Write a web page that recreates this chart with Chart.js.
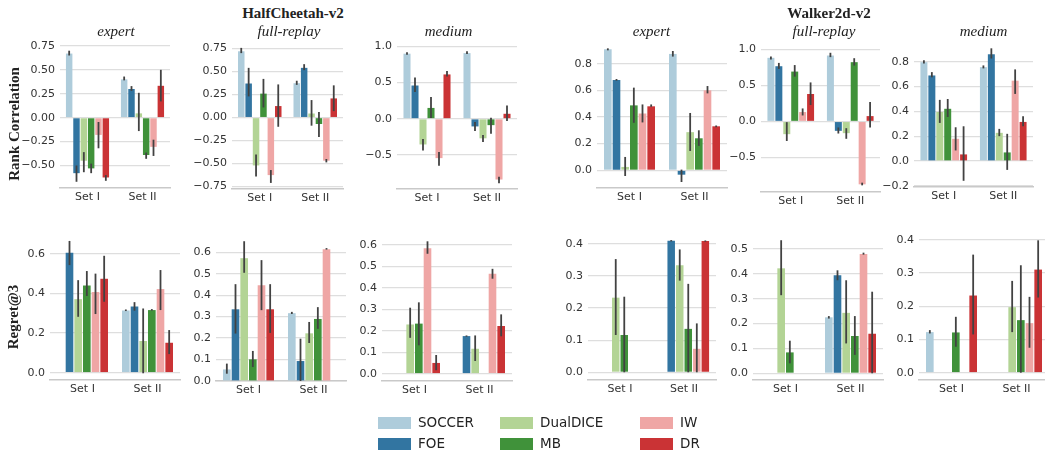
<!DOCTYPE html>
<html>
<head>
<meta charset="utf-8">
<script src="https://cdn.jsdelivr.net/npm/chart.js@4.4.1/dist/chart.umd.min.js"></script>
<style>
body { margin: 0; width: 1045px; height: 450px; overflow: hidden; background: #fff; position: relative; font-family: "DejaVu Sans"; }
canvas { position: absolute; }
.ttl { position: absolute; transform: translate(-50%, -50%); white-space: nowrap; font-family: "Liberation Serif"; color: #222; line-height: 1; }
.sub { font-style: italic; font-size: 15px; }
.sup { font-weight: bold; font-size: 15px; }
.rot { font-weight: bold; font-size: 15px; transform: translate(-50%, -50%) rotate(-90deg); }
.lg { position: absolute; font-size: 13.5px; color: #222; line-height: 1; white-space: nowrap; }
.sw { position: absolute; width: 33px; height: 12px; }
</style>
</head>
<body>
<script>
// methods / groups
var methods = ['SOCCER', 'FOE', 'DualDICE', 'MB', 'IW', 'DR'];
var sets = ['Set I', 'Set II'];
var colors = ['#aeccdb', '#3275a1', '#b3d495', '#40923a', '#efa6a5', '#ca3335'];

// each row = one method, [Set I, Set II]
// --- rank correlation, HalfCheetah-v2
var hcExpertRank   = [[0.67, 0.40], [-0.58, 0.30], [-0.45, 0.045], [-0.53, -0.39], [-0.18, -0.305], [-0.625, 0.333]];
var hcExpertRankLo = [[0.65, 0.39], [-0.67, 0.28], [-0.57, -0.14], [-0.58, -0.43], [-0.32, -0.40], [-0.66, 0.17]];
var hcExpertRankHi = [[0.70, 0.43], [-0.50, 0.33], [-0.36, 0.26], [-0.48, -0.365], [-0.045, -0.23], [-0.60, 0.50]];

var hcFullRank   = [[0.72, 0.373], [0.37, 0.54], [-0.52, 0.044], [0.26, -0.07], [-0.625, -0.468], [0.125, 0.208]];
var hcFullRankLo = [[0.70, 0.355], [0.23, 0.515], [-0.64, -0.088], [0.11, -0.21], [-0.71, -0.487], [-0.10, 0.07]];
var hcFullRankHi = [[0.757, 0.40], [0.54, 0.58], [-0.40, 0.19], [0.42, 0.06], [-0.57, -0.45], [0.36, 0.35]];

var hcMedRank   = [[0.90, 0.908], [0.46, -0.106], [-0.355, -0.27], [0.15, -0.088], [-0.544, -0.84], [0.613, 0.069]];
var hcMedRankLo = [[0.885, 0.894], [0.37, -0.17], [-0.44, -0.32], [0.01, -0.207], [-0.65, -0.89], [0.585, -0.03]];
var hcMedRankHi = [[0.92, 0.935], [0.57, -0.046], [-0.28, -0.226], [0.30, 0.014], [-0.46, -0.80], [0.66, 0.184]];

// --- rank correlation, Walker2d-v2
var wkExpertRank   = [[0.908, 0.873], [0.677, -0.033], [0.025, 0.286], [0.487, 0.24], [0.426, 0.60], [0.48, 0.33]];
var wkExpertRankLo = [[0.90, 0.853], [0.672, -0.088], [-0.043, 0.145], [0.356, 0.183], [0.359, 0.577], [0.476, 0.323]];
var wkExpertRankHi = [[0.915, 0.895], [0.685, 0.005], [0.10, 0.43], [0.62, 0.30], [0.494, 0.632], [0.494, 0.336]];

var wkFullRank   = [[0.88, 0.912], [0.764, -0.13], [-0.176, -0.162], [0.69, 0.82], [0.13, -0.87], [0.38, 0.074]];
var wkFullRankLo = [[0.857, 0.89], [0.727, -0.167], [-0.27, -0.24], [0.62, 0.773], [0.083, -0.884], [0.227, -0.083]];
var wkFullRankHi = [[0.90, 0.95], [0.81, -0.083], [-0.01, -0.093], [0.78, 0.875], [0.18, -0.847], [0.54, 0.27]];

var wkMedRank   = [[0.797, 0.757], [0.69, 0.861], [0.395, 0.227], [0.421, 0.069], [0.179, 0.648], [0.053, 0.315]];
var wkMedRankLo = [[0.787, 0.747], [0.675, 0.827], [0.307, 0.20], [0.355, -0.072], [0.085, 0.541], [-0.16, 0.28]];
var wkMedRankHi = [[0.813, 0.771], [0.717, 0.909], [0.493, 0.259], [0.50, 0.219], [0.272, 0.739], [0.28, 0.36]];

// --- regret@3, HalfCheetah-v2
var hcExpertReg   = [[0, 0.314], [0.605, 0.334], [0.371, 0.16], [0.44, 0.316], [0.407, 0.422], [0.474, 0.151]];
var hcExpertRegLo = [[null, 0.311], [0.543, 0.313], [0.282, -0.003], [0.387, 0.313], [0.296, 0.316], [0.358, 0.094]];
var hcExpertRegHi = [[null, 0.319], [0.665, 0.356], [0.467, 0.324], [0.513, 0.321], [0.50, 0.518], [0.59, 0.215]];

var hcFullReg   = [[0.054, 0.316], [0.334, 0.093], [0.572, 0.222], [0.101, 0.289], [0.446, 0.614], [0.334, 0]];
var hcFullRegLo = [[0.034, 0.312], [0.221, 0.0], [0.504, 0.177], [0.065, 0.243], [0.33, 0.612], [0.224, null]];
var hcFullRegHi = [[0.081, 0.322], [0.451, 0.197], [0.651, 0.275], [0.14, 0.344], [0.563, 0.619], [0.451, null]];

var hcMedReg   = [[0, 0], [0, 0.175], [0.229, 0.116], [0.233, 0], [0.584, 0.465], [0.05, 0.222]];
var hcMedRegLo = [[null, null], [null, 0.172], [0.167, 0.059], [0.132, null], [0.558, 0.442], [0.016, 0.174]];
var hcMedRegHi = [[null, null], [null, 0.178], [0.307, 0.178], [0.332, null], [0.616, 0.488], [0.087, 0.276]];

// --- regret@3, Walker2d-v2
var wkExpertReg   = [[0, 0], [0, 0.409], [0.232, 0.333], [0.116, 0.135], [0, 0.073], [0, 0.408]];
var wkExpertRegLo = [[null, null], [null, 0.407], [0.116, 0.285], [0.0, 0.0], [null, 0.0], [null, 0.406]];
var wkExpertRegHi = [[null, null], [null, 0.411], [0.352, 0.382], [0.235, 0.275], [null, 0.152], [null, 0.41]];

var wkFullReg   = [[0, 0.225], [0, 0.394], [0.422, 0.243], [0.084, 0.15], [0, 0.48], [0, 0.159]];
var wkFullRegLo = [[null, 0.22], [null, 0.374], [0.314, 0.12], [0.04, 0.074], [null, 0.477], [null, 0.0]];
var wkFullRegHi = [[null, 0.23], [null, 0.414], [0.535, 0.374], [0.131, 0.23], [null, 0.485], [null, 0.328]];

var wkMedReg   = [[0.122, 0], [0, 0], [0, 0.197], [0.121, 0.158], [0, 0.149], [0.232, 0.31]];
var wkMedRegLo = [[0.118, null], [null, null], [null, 0.122], [0.078, 0.0], [null, 0.075], [0.115, 0.226]];
var wkMedRegHi = [[0.128, null], [null, null], [null, 0.276], [0.168, 0.323], [null, 0.228], [0.355, 0.398]];

// y tick values
var ticksHcExpertRank = [-0.5, -0.25, 0, 0.25, 0.5, 0.75];
var ticksHcFullRank = [-0.75, -0.5, -0.25, 0, 0.25, 0.5, 0.75];
var ticksHalfStep = [-0.5, 0, 0.5, 1.0];
var ticksWkExpertRank = [0, 0.2, 0.4, 0.6, 0.8];
var ticksWkMedRank = [-0.2, 0, 0.2, 0.4, 0.6, 0.8];
var ticksReg06 = [0, 0.2, 0.4, 0.6];
var ticksReg06b = [0, 0.1, 0.2, 0.3, 0.4, 0.5, 0.6];
var ticksReg05 = [0, 0.1, 0.2, 0.3, 0.4, 0.5];
var ticksReg04 = [0, 0.1, 0.2, 0.3, 0.4];

// draws the black error bars on top of each bar
var errPlugin = {
    id: 'errbars',
    afterDatasetsDraw: function(chart) {
        var ctx = chart.ctx;
        var y = chart.scales.y;
        ctx.save();
        ctx.strokeStyle = '#424242';
        ctx.lineWidth = 1.8;
        chart.data.datasets.forEach(function(ds, i) {
            var meta = chart.getDatasetMeta(i);
            meta.data.forEach(function(bar, j) {
                var lo = ds.lo[j], hi = ds.hi[j];
                if (lo == null || hi == null) return;
                ctx.beginPath();
                ctx.moveTo(bar.x, y.getPixelForValue(lo));
                ctx.lineTo(bar.x, y.getPixelForValue(hi));
                ctx.stroke();
            });
        });
        ctx.restore();
    }
};

var fmt = function(v, dec) {
    var s = Math.abs(v).toFixed(dec);
    return (v < -1e-9 ? '\u2212' : '') + s;
};

var YW = 50, XH = 24, PT = 10, PR = 4;

var makePanel = function(p) {
    var L = p.box[0], T = p.box[1], R = p.box[2], B = p.box[3];
    var w = Math.round(R - L + YW + PR), h = Math.round(B - T + XH + PT);
    var c = document.createElement('canvas');
    c.width = w; c.height = h;
    c.style.left = Math.round(L - YW) + 'px';
    c.style.top = Math.round(T - PT) + 'px';
    c.style.width = w + 'px'; c.style.height = h + 'px';
    document.body.appendChild(c);

    var datasets = [];
    for (var i = 0; i < methods.length; i++) {
        datasets.push({
            label: methods[i],
            data: p.mean[i],
            lo: p.lo[i],
            hi: p.hi[i],
            backgroundColor: colors[i],
            borderWidth: 0,
            categoryPercentage: 0.8,
            barPercentage: 0.88
        });
    }

    new Chart(c, {
        type: 'bar',
        data: { labels: sets, datasets: datasets },
        options: {
            responsive: false,
            animation: false,
            events: [],
            layout: { padding: { top: PT, right: PR, left: 0, bottom: 0 } },
            plugins: { legend: { display: false }, tooltip: { enabled: false } },
            scales: {
                x: {
                    grid: { display: false, drawTicks: false },
                    border: { display: true, color: '#c9c9c9', width: 1.6 },
                    ticks: { color: '#333', font: { family: 'DejaVu Sans', size: 11 }, padding: 3, maxRotation: 0, autoSkip: false },
                    afterFit: function(s) { s.height = XH; s.paddingLeft = 0; s.paddingRight = 0; }
                },
                y: {
                    min: p.ylim[0],
                    max: p.ylim[1],
                    grid: { color: '#dedede', lineWidth: 1.2, drawTicks: false },
                    border: { display: false },
                    ticks: {
                        color: '#333', font: { family: 'DejaVu Sans', size: 11 }, padding: 5,
                        callback: function(v) { return fmt(v, p.dec); }
                    },
                    afterBuildTicks: function(s) { s.ticks = p.ticks.map(function(v) { return { value: v }; }); },
                    afterFit: function(s) { s.width = YW; s.paddingTop = 0; s.paddingBottom = 0; }
                }
            }
        },
        plugins: [errPlugin]
    });
};

var panels = [
    { mean: hcExpertRank, lo: hcExpertRankLo, hi: hcExpertRankHi, box: [60, 44, 170, 188], ylim: [-0.735, 0.77], ticks: ticksHcExpertRank, dec: 2 },
    { mean: hcFullRank, lo: hcFullRankLo, hi: hcFullRankHi, box: [232, 43, 343, 189], ylim: [-0.776, 0.81], ticks: ticksHcFullRank, dec: 2 },
    { mean: hcMedRank, lo: hcMedRankLo, hi: hcMedRankHi, box: [397, 44.6, 517, 188.3], ylim: [-0.971, 1.02], ticks: ticksHalfStep, dec: 1 },
    { mean: wkExpertRank, lo: wkExpertRankLo, hi: wkExpertRankHi, box: [597, 41, 727, 187.7], ylim: [-0.133, 0.97], ticks: ticksWkExpertRank, dec: 1 },
    { mean: wkFullRank, lo: wkFullRankLo, hi: wkFullRankHi, box: [761, 46.5, 880, 191], ylim: [-0.976, 1.03], ticks: ticksHalfStep, dec: 1 },
    { mean: wkMedRank, lo: wkMedRankLo, hi: wkMedRankHi, box: [914, 41.7, 1033, 186.7], ylim: [-0.21, 0.96], ticks: ticksWkMedRank, dec: 1 },

    { mean: hcExpertReg, lo: hcExpertRegLo, hi: hcExpertRegHi, box: [49.5, 233.9, 179.5, 380], ylim: [-0.037, 0.70], ticks: ticksReg06, dec: 1 },
    { mean: hcFullReg, lo: hcFullRegLo, hi: hcFullRegHi, box: [215.5, 234.9, 345.5, 380.7], ylim: [0, 0.68], ticks: ticksReg06b, dec: 1 },
    { mean: hcMedReg, lo: hcMedRegLo, hi: hcMedRegHi, box: [381.5, 233.6, 511.5, 380.7], ylim: [-0.034, 0.65], ticks: ticksReg06b, dec: 1 },
    { mean: wkExpertReg, lo: wkExpertRegLo, hi: wkExpertRegHi, box: [588, 234, 716, 380], ylim: [-0.024, 0.43], ticks: ticksReg04, dec: 1 },
    { mean: wkFullReg, lo: wkFullRegLo, hi: wkFullRegHi, box: [752.5, 234.7, 882.5, 380], ylim: [-0.027, 0.556], ticks: ticksReg05, dec: 1 },
    { mean: wkMedReg, lo: wkMedRegLo, hi: wkMedRegHi, box: [918.5, 232.7, 1048.5, 380], ylim: [-0.022, 0.42], ticks: ticksReg04, dec: 1 }
];

panels.forEach(makePanel);

// titles
var addText = function(text, cls, x, y) {
    var d = document.createElement('div');
    d.className = 'ttl ' + cls;
    d.textContent = text;
    d.style.left = x + 'px';
    d.style.top = y + 'px';
    document.body.appendChild(d);
};
addText('HalfCheetah-v2', 'sup', 293, 12.5);
addText('Walker2d-v2', 'sup', 829, 12.5);
addText('expert', 'sub', 116, 31);
addText('full-replay', 'sub', 289, 31);
addText('medium', 'sub', 448.5, 31);
addText('expert', 'sub', 651.5, 31);
addText('full-replay', 'sub', 824, 31);
addText('medium', 'sub', 983.5, 31);
addText('Rank Correlation', 'rot', 14, 124);
addText('Regret@3', 'rot', 13, 317);

// legend, column-major like the original
var legendPos = [[378, 423], [378, 444], [500, 423], [500, 444], [640, 423], [640, 444]];
methods.forEach(function(m, i) {
    var sw = document.createElement('div');
    sw.className = 'sw';
    sw.style.background = colors[i];
    sw.style.left = legendPos[i][0] + 'px';
    sw.style.top = (legendPos[i][1] - 6) + 'px';
    document.body.appendChild(sw);
    var t = document.createElement('div');
    t.className = 'lg';
    t.textContent = m;
    t.style.left = (legendPos[i][0] + 40) + 'px';
    t.style.top = (legendPos[i][1] - 7) + 'px';
    document.body.appendChild(t);
});
</script>
</body>
</html>
